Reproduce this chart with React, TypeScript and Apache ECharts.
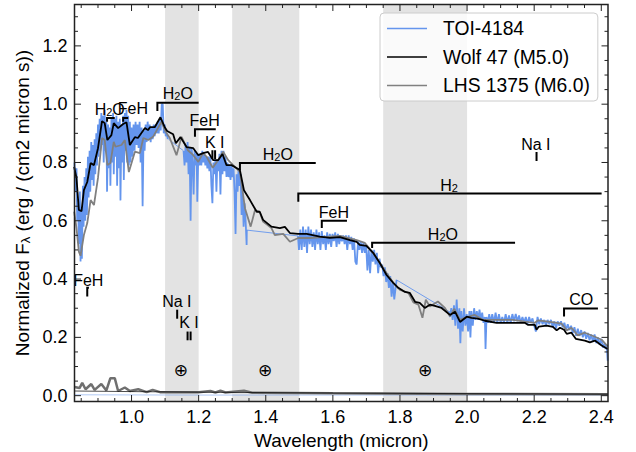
import React, { useEffect, useRef } from "react";
import * as echarts from "echarts";

const FONT = "Liberation Sans";
const X_MIN = 0.83, X_MAX = 2.42, Y_MIN = -0.02, Y_MAX = 1.342;

const xTickLabels = [1.0, 1.2, 1.4, 1.6, 1.8, 2.0, 2.2, 2.4];
const yTickLabels = [0.0, 0.2, 0.4, 0.6, 0.8, 1.0, 1.2];
const telluricBands = [[1.1, 1.2], [1.3, 1.5], [1.75, 2.0]];
const earthSymbols = [1.147, 1.398, 1.875];

const toiPartA = [[.830,.80],[.833,.70],[.836,.78],[.838,.60],[.841,.66],[.843,.52],[.846,.70],[.848,.46],[.850,.64],[.852,.47],[.855,.72],[.857,.58],[.860,.75],[.862,.60],[.865,.78],[.867,.62],[.870,.82],[.872,.68],[.875,.84],[.877,.70],[.880,.87],[.882,.74],[.885,.86],[.887,.72],[.890,.88],[.892,.76],[.895,.90],[.897,.79],[.900,.93],[.902,.82],[.905,.95],[.907,.84],[.910,.97],[.912,.86],[.915,.96],[.917,.80],[.920,.98],[.922,.84],[.925,.94],[.927,.70],[.930,.93],[.932,.78],[.935,.92],[.937,.72],[.940,.95],[.942,.80],[.945,.97],[.947,.76],[.950,.95],[.952,.82],[.955,.96],[.957,.72],[.960,.94],[.962,.78],[.965,.95],[.967,.67],[.970,.93],[.972,.80],[.975,.96],[.977,.74],[.980,.97],[.982,.84],[.985,.98],[.987,.80],[.990,.96],[.992,.79],[.995,.94],[.997,.80],[1.0,.92],[1.003,.82],[1.006,.93],[1.009,.84],[1.012,.94],[1.015,.86],[1.018,.93],[1.021,.85],[1.024,.94],[1.027,.80],[1.030,.92],[1.033,.65],[1.036,.91],[1.039,.84],[1.042,.93],[1.045,.87],[1.048,.94],[1.051,.88],[1.054,.93],[1.057,.87],[1.060,.92],[1.063,.88],[1.066,.93],[1.069,.89],[1.072,.93],[1.075,.90],[1.078,.94],[1.081,.90],[1.084,.95],[1.087,.91],[1.090,1.0],[1.093,1.0],[1.096,.90],[1.099,.93],[1.102,.89],[1.105,.90],[1.108,.88],[1.11,.88]];
const toiPartB = [[1.155,.84],[1.158,.79],[1.161,.86],[1.164,.80],[1.167,.87],[1.170,.76],[1.173,.85],[1.176,.60],[1.179,.85],[1.182,.80],[1.185,.69],[1.188,.84],[1.191,.79],[1.194,.83],[1.196,.665],[1.199,.83],[1.202,.79],[1.205,.83],[1.208,.79],[1.211,.84],[1.214,.80],[1.217,.83],[1.220,.79],[1.223,.82],[1.226,.78],[1.229,.82],[1.232,.77],[1.235,.82],[1.238,.72],[1.241,.66],[1.244,.80],[1.247,.76],[1.250,.81],[1.253,.70],[1.256,.81],[1.259,.77],[1.262,.83],[1.265,.69],[1.268,.84],[1.271,.76],[1.274,.84],[1.277,.77],[1.280,.82],[1.283,.75],[1.286,.80],[1.289,.75],[1.292,.79],[1.295,.74],[1.298,.79],[1.301,.75],[1.304,.78],[1.307,.70],[1.310,.555],[1.313,.76],[1.316,.70],[1.319,.78],[1.322,.72],[1.325,.76],[1.328,.62],[1.331,.70],[1.334,.58],[1.337,.66],[1.340,.60],[1.343,.517],[1.3435,.568]];
const toiPartC = [[1.496,.548],[1.499,.50],[1.503,.57],[1.507,.50],[1.511,.58],[1.515,.51],[1.519,.57],[1.523,.49],[1.527,.58],[1.531,.52],[1.535,.57],[1.539,.51],[1.543,.56],[1.547,.50],[1.551,.57],[1.555,.52],[1.559,.56],[1.563,.50],[1.567,.565],[1.571,.52],[1.575,.55],[1.579,.50],[1.583,.56],[1.587,.52],[1.591,.555],[1.595,.51],[1.599,.555],[1.603,.53],[1.607,.56],[1.611,.51],[1.615,.555],[1.619,.52],[1.623,.55],[1.627,.53],[1.631,.55],[1.635,.52],[1.639,.55],[1.643,.50],[1.647,.55],[1.651,.52],[1.655,.545],[1.659,.50],[1.663,.54],[1.667,.46],[1.671,.45],[1.675,.53],[1.679,.50],[1.683,.53],[1.687,.49],[1.691,.525],[1.695,.49],[1.699,.52],[1.703,.43],[1.707,.50],[1.711,.42],[1.715,.50],[1.719,.46],[1.723,.50],[1.727,.45],[1.731,.49],[1.735,.42],[1.739,.47],[1.743,.44],[1.747,.45],[1.751,.41],[1.755,.44],[1.759,.39],[1.763,.42],[1.767,.37],[1.771,.41],[1.775,.34],[1.779,.39],[1.783,.33],[1.787,.37],[1.790,.397]];
const toiPartD = [[1.945,.29],[1.949,.27],[1.953,.30],[1.957,.26],[1.961,.31],[1.965,.24],[1.969,.33],[1.973,.23],[1.977,.30],[1.980,.18],[1.983,.29],[1.987,.22],[1.991,.30],[1.995,.24],[1.999,.28],[2.003,.22],[2.007,.29],[2.010,.20],[2.013,.29],[2.017,.24],[2.021,.30],[2.025,.26],[2.029,.29],[2.033,.26],[2.037,.295],[2.041,.26],[2.045,.285],[2.049,.25],[2.053,.27],[2.055,.16],[2.058,.27],[2.062,.25],[2.066,.28],[2.070,.25],[2.075,.28],[2.080,.25],[2.085,.285],[2.090,.25],[2.095,.28],[2.100,.25],[2.105,.27],[2.110,.25],[2.115,.28],[2.120,.25],[2.125,.275],[2.130,.25],[2.135,.28],[2.140,.255],[2.145,.28],[2.150,.255],[2.155,.275],[2.160,.25],[2.165,.27],[2.170,.25],[2.175,.27],[2.180,.245],[2.185,.27],[2.190,.25],[2.195,.265],[2.200,.24],[2.205,.22],[2.210,.27],[2.215,.245],[2.220,.265],[2.225,.245],[2.230,.26],[2.235,.24],[2.240,.26],[2.245,.245],[2.250,.26],[2.255,.235],[2.260,.255],[2.265,.23],[2.270,.255],[2.275,.24],[2.280,.255],[2.285,.235],[2.290,.25],[2.295,.225],[2.300,.245],[2.305,.225],[2.310,.24],[2.315,.215],[2.320,.235],[2.325,.205],[2.330,.23],[2.335,.205],[2.340,.225],[2.345,.20],[2.350,.22],[2.355,.195],[2.360,.215],[2.365,.19],[2.370,.21],[2.375,.185],[2.380,.21],[2.385,.18],[2.390,.20],[2.395,.175],[2.400,.195],[2.405,.165],[2.410,.18],[2.413,.16],[2.416,.175],[2.419,.12]];
const toiGapA = [[1.11,.88],[1.155,.84]];
const toiGapB = [[1.3435,.568],[1.496,.548]];
const toiGapC = [[1.79,.397],[1.945,.29]];

const wolf47 = [[.829,.785],[.836,.746],[.843,.637],[.851,.633],[.858,.705],[.868,.733],[.878,.798],[.888,.791],[.900,.849],[.912,.942],[.920,.935],[.928,.877],[.940,.894],[.947,.935],[.960,.918],[.975,.932],[.985,.938],[.995,.860],[1.010,.887],[1.019,.884],[1.040,.918],[1.049,.911],[1.055,.921],[1.069,.921],[1.086,.955],[1.099,.921],[1.106,.908],[1.124,.897],[1.132,.866],[1.146,.887],[1.164,.853],[1.184,.849],[1.199,.825],[1.213,.832],[1.228,.836],[1.243,.808],[1.258,.808],[1.271,.829],[1.283,.791],[1.298,.791],[1.323,.774],[1.335,.705],[1.353,.671],[1.373,.631],[1.382,.631],[1.392,.603],[1.417,.580],[1.442,.575],[1.457,.579],[1.472,.558],[1.496,.555],[1.522,.555],[1.561,.546],[1.591,.541],[1.621,.544],[1.651,.534],[1.671,.528],[1.680,.517],[1.700,.514],[1.720,.490],[1.740,.455],[1.760,.414],[1.780,.387],[1.795,.370],[1.815,.356],[1.829,.353],[1.845,.322],[1.859,.318],[1.874,.301],[1.889,.312],[1.904,.308],[1.924,.301],[1.949,.277],[1.964,.288],[1.979,.253],[1.999,.271],[2.013,.267],[2.032,.264],[2.053,.257],[2.088,.250],[2.137,.250],[2.172,.250],[2.181,.243],[2.202,.243],[2.207,.226],[2.214,.237],[2.237,.240],[2.256,.236],[2.267,.224],[2.277,.233],[2.289,.226],[2.297,.212],[2.311,.216],[2.324,.195],[2.351,.189],[2.366,.183],[2.381,.189],[2.401,.172],[2.419,.160]];

const lhs1375 = [[.829,.631],[.836,.575],[.843,.494],[.848,.480],[.858,.551],[.868,.592],[.878,.671],[.888,.654],[.900,.747],[.912,.884],[.920,.877],[.928,.791],[.937,.798],[.947,.871],[.952,.854],[.970,.860],[.980,.877],[.992,.767],[1.010,.837],[1.025,.832],[1.035,.884],[1.050,.877],[1.064,.888],[1.089,.939],[1.102,.905],[1.114,.884],[1.134,.825],[1.149,.888],[1.168,.842],[1.184,.825],[1.199,.802],[1.213,.832],[1.224,.819],[1.242,.782],[1.258,.808],[1.273,.837],[1.288,.808],[1.323,.768],[1.338,.643],[1.355,.580],[1.368,.637],[1.382,.630],[1.392,.597],[1.417,.575],[1.427,.551],[1.452,.555],[1.472,.528],[1.497,.541],[1.531,.541],[1.571,.544],[1.621,.548],[1.671,.534],[1.695,.524],[1.72,.490],[1.76,.421],[1.78,.387],[1.80,.363],[1.825,.353],[1.84,.320],[1.855,.312],[1.867,.267],[1.877,.329],[1.889,.306],[1.913,.323],[1.934,.301],[1.949,.272],[1.962,.298],[1.979,.260],[1.994,.267],[2.008,.272],[2.023,.277],[2.047,.260],[2.088,.260],[2.137,.260],[2.172,.254],[2.202,.250],[2.211,.258],[2.247,.253],[2.282,.247],[2.297,.224],[2.311,.233],[2.33,.207],[2.351,.216],[2.381,.202],[2.401,.192],[2.419,.169]];

const lhsError = [[.830,.03],[.845,.026],[.853,.044],[.863,.022],[.880,.04],[.890,.02],[.910,.04],[.925,.018],[.937,.06],[.950,.06],[.960,.016],[.980,.028],[.995,.016],[1.020,.022],[1.045,.012],[1.063,.02],[1.085,.012],[1.2,.012],[1.235,.016],[1.25,.011],[1.265,.017],[1.28,.011],[1.335,.017],[1.36,.01],[1.6,.008],[2.0,.006],[2.42,.005]];
const wolfError = [[.830,.016],[1.0,.014],[1.2,.012],[1.6,.009],[2.0,.007],[2.42,.005]];
const toiError = [[.830,.003],[1.2,.002],[1.8,.002],[2.42,.002]];

// line from, line to, level, drop of the bracket's foot, label, label wavelength, label level
const featureBrackets: [number, number, number, number, string, number, number][] = [
  [.927, .95, .953, .94, "H2O", .935, .986],
  [.975, .99, .953, .94, "FeH", 1.004, .986],
  [1.077, 1.2, 1.005, .977, "H2O", 1.138, 1.039],
  [1.189, 1.251, .914, .888, "FeH", 1.218, .943],
  [1.323, 1.549, .798, .774, "H2O", 1.436, .832],
  [1.497, 2.401, .694, .665, "H2", 1.946, .726],
  [1.567, 1.642, .60, .575, "FeH", 1.603, .63],
  [1.717, 2.143, .525, .507, "H2O", 1.928, .558],
  [2.289, 2.39, .299, .272, "CO", 2.34, .329],
  [.868, .873, .37, .34, "FeH", .871, .395],
];
// tick wavelengths, top, bottom, label, label wavelength, label level
const featureTicks: [number[], number, number, string, number, number][] = [
  [[1.241, 1.249], .842, .812, "K I", 1.248, .87],
  [[2.207], .836, .805, "Na I", 2.205, .863],
  [[1.136], .295, .264, "Na I", 1.135, .322],
  [[1.167, 1.176], .22, .19, "K I", 1.171, .25],
];

function labelStyle(text: string) {
  const m = text.match(/^H2(O?)$/);
  const base = { fontFamily: FONT, fontSize: 16, fill: "#000", align: "center", verticalAlign: "middle" };
  if (!m) return { ...base, text };
  return {
    ...base,
    text: `{a|H}{s|2}{a|${m[1]}}`,
    rich: {
      a: { fontFamily: FONT, fontSize: 16, fill: "#000", lineHeight: 18, verticalAlign: "bottom" },
      s: { fontFamily: FONT, fontSize: 11, fill: "#000", lineHeight: 18, verticalAlign: "bottom", padding: [6, 0, 0, 0] },
    },
  };
}

function renderAnnotations(_p: any, api: any) {
  const children: any[] = [];
  const stroke = { stroke: "#000", lineWidth: 2, fill: "none" };
  featureBrackets.forEach(([a, b, y, foot, label, lx, ly]) => {
    children.push({ type: "polyline", shape: { points: [api.coord([a, foot]), api.coord([a, y]), api.coord([b, y])] }, style: stroke });
    const p = api.coord([lx, ly]);
    children.push({ type: "text", x: p[0], y: p[1], style: labelStyle(label) });
  });
  featureTicks.forEach(([xs, top, bottom, label, lx, ly]) => {
    xs.forEach((x) => {
      const a = api.coord([x, top]);
      const b = api.coord([x, bottom]);
      children.push({ type: "line", shape: { x1: a[0], y1: a[1], x2: b[0], y2: b[1] }, style: { stroke: "#000", lineWidth: 2 } });
    });
    const p = api.coord([lx, ly]);
    children.push({ type: "text", x: p[0], y: p[1], style: labelStyle(label) });
  });
  earthSymbols.forEach((x) => {
    const p = api.coord([x, 0.088]);
    children.push({ type: "text", x: p[0], y: p[1], style: { text: "⊕", fontFamily: "DejaVu Sans", fontSize: 17, fill: "#000", align: "center", verticalAlign: "middle" } });
  });
  return { type: "group", children };
}

function renderFrame(_p: any, api: any) {
  const children: any[] = [];
  const color = "#222";
  const bl = api.coord([X_MIN, Y_MIN]);
  const tr = api.coord([X_MAX, Y_MAX]);
  children.push({ type: "rect", shape: { x: bl[0], y: tr[1], width: tr[0] - bl[0], height: bl[1] - tr[1] }, style: { fill: "none", stroke: color, lineWidth: 1.5 } });
  const tick = (x1: number, y1: number, x2: number, y2: number) =>
    children.push({ type: "line", shape: { x1, y1, x2, y2 }, style: { stroke: color, lineWidth: 1 } });
  for (let i = 17; i <= 48; i++) {
    const v = i * 0.05;
    const major = i >= 20 && i % 4 === 0;
    const len = major ? 6.5 : 3.5;
    const x = api.coord([v, 0])[0];
    tick(x, bl[1], x, bl[1] - len);
    tick(x, tr[1], x, tr[1] + len);
  }
  for (let i = 0; i <= 26; i++) {
    const v = i * 0.05;
    const len = i % 4 === 0 ? 6.5 : 3.5;
    const y = api.coord([0, v])[1];
    tick(bl[0], y, bl[0] + len, y);
    tick(tr[0], y, tr[0] - len, y);
  }
  return { type: "group", children };
}

export default function App() {
  const ref = useRef<HTMLDivElement>(null);
  useEffect(() => {
    const chart = echarts.init(ref.current!, undefined, { renderer: "svg" });
    const baseLine = { type: "line", symbol: "none", silent: true, clip: true };
    const toiStyle = { lineStyle: { color: "#6495ed", width: 1.8 }, itemStyle: { color: "#6495ed" }, z: 2 };
    const toiThin = { lineStyle: { color: "#6495ed", width: 0.9 }, itemStyle: { color: "#6495ed" }, z: 2 };
    chart.setOption({
      animation: false,
      backgroundColor: "#fff",
      textStyle: { fontFamily: FONT },
      grid: { left: 74.5, right: 28, top: 4.5, bottom: 50.5, outerBoundsMode: "none" },
      legend: {
        orient: "vertical",
        left: 380,
        top: 13,
        padding: [6, 8, 6, 7],
        icon: "rect",
        itemWidth: 40,
        itemHeight: 1.4,
        itemGap: 9.5,
        backgroundColor: "rgba(255,255,255,0.8)",
        borderColor: "#ccc",
        borderWidth: 1,
        borderRadius: 4,
        textStyle: { fontFamily: FONT, fontSize: 19.3, color: "#000", padding: [0, 0, 0, 11] },
        data: ["TOI-4184", "Wolf 47 (M5.0)", "LHS 1375 (M6.0)"],
      },
      xAxis: {
        type: "value",
        min: X_MIN,
        max: X_MAX,
        splitLine: { show: false },
        axisLine: { show: false },
        axisTick: { show: false },
        axisLabel: {
          customValues: xTickLabels,
          formatter: (v: number) => v.toFixed(1),
          fontFamily: FONT,
          fontSize: 18,
          color: "#000",
          margin: 6,
        },
        name: "Wavelength (micron)",
        nameLocation: "middle",
        nameGap: 29,
        nameTextStyle: { fontFamily: FONT, fontSize: 19, color: "#000" },
      },
      yAxis: {
        type: "value",
        min: Y_MIN,
        max: Y_MAX,
        splitLine: { show: false },
        axisLine: { show: false },
        axisTick: { show: false },
        axisLabel: {
          customValues: yTickLabels,
          formatter: (v: number) => v.toFixed(1),
          fontFamily: FONT,
          fontSize: 18,
          color: "#000",
          margin: 7,
        },
        name: "{n|Normalized F}{s|λ}{n| (erg / (cm2 micron s))}",
        nameLocation: "middle",
        nameGap: 43,
        nameTextStyle: {
          fontFamily: FONT,
          fontSize: 19,
          color: "#000",
          rich: {
            n: { fontFamily: FONT, fontSize: 19, color: "#000" },
            s: { fontFamily: FONT, fontSize: 13, color: "#000", verticalAlign: "bottom", padding: [6, 0, 0, 0] },
          },
        },
      },
      series: [
        {
          ...baseLine,
          name: "bands",
          data: [],
          z: 0,
          markArea: {
            silent: true,
            itemStyle: { color: "#e3e3e3" },
            data: telluricBands.map(([a, b]) => [{ xAxis: a, yAxis: Y_MIN }, { xAxis: b, yAxis: Y_MAX }]),
          },
        },
        { ...baseLine, name: "TOI-4184", data: toiPartA, ...toiStyle },
        { ...baseLine, name: "TOI-4184", data: toiGapA, ...toiThin },
        { ...baseLine, name: "TOI-4184", data: toiPartB, ...toiStyle },
        { ...baseLine, name: "TOI-4184", data: toiGapB, ...toiThin },
        { ...baseLine, name: "TOI-4184", data: toiPartC, ...toiStyle },
        { ...baseLine, name: "TOI-4184", data: toiGapC, ...toiThin },
        { ...baseLine, name: "TOI-4184", data: toiPartD, ...toiStyle },
        { ...baseLine, name: "TOI-4184 error", data: toiError, z: 2, lineStyle: { color: "#6495ed", width: 1, opacity: 0.5 } },
        { ...baseLine, name: "Wolf 47 (M5.0)", data: wolf47, z: 4, lineStyle: { color: "#000", width: 1.8 }, itemStyle: { color: "#000" } },
        { ...baseLine, name: "Wolf 47 error", data: wolfError, z: 4, lineStyle: { color: "#000", width: 1, opacity: 0.7 } },
        { ...baseLine, name: "LHS 1375 (M6.0)", data: lhs1375, z: 3, lineStyle: { color: "#808080", width: 1.8 }, itemStyle: { color: "#808080" } },
        { ...baseLine, name: "LHS 1375 error", data: lhsError, z: 3, lineStyle: { color: "#707070", width: 2.5 } },
        { type: "custom", name: "annotations", silent: true, z: 5, clip: false, data: [[1, 0]], renderItem: renderAnnotations },
        { type: "custom", name: "frame", silent: true, z: 6, clip: false, data: [[1, 0]], renderItem: renderFrame },
      ],
    });
    return () => chart.dispose();
  }, []);
  return <div ref={ref} style={{ position: "absolute", left: 0, top: 0, width: 636, height: 452 }} />;
}
